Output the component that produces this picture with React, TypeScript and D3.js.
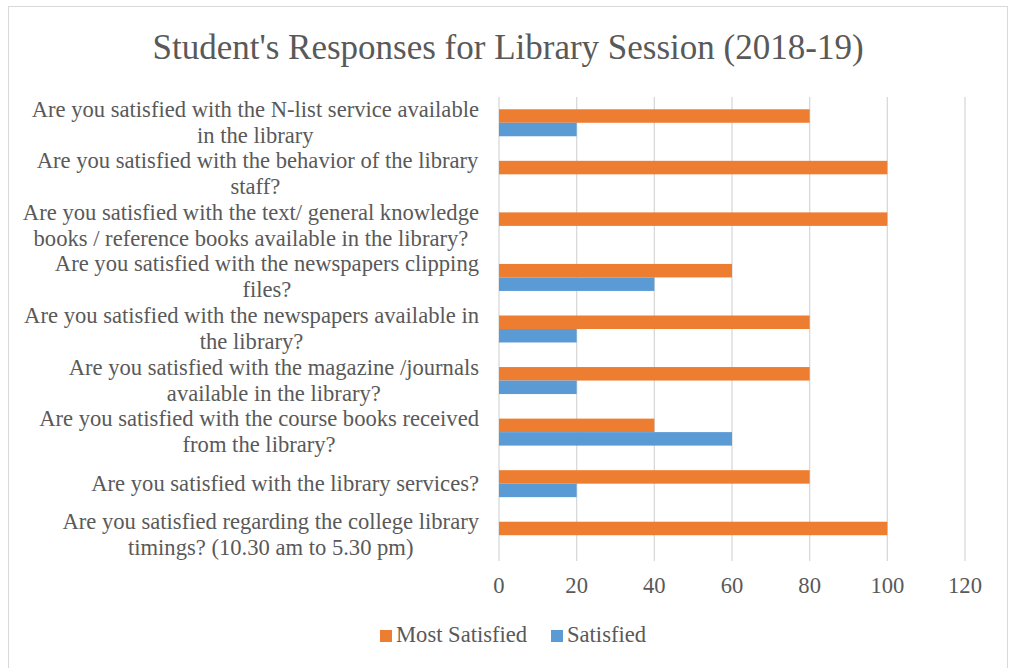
import * as d3 from 'd3';

const W = 1009;
const H = 668;

// one entry per category, top to bottom; each entry is the wrapped lines of the label
const categories: string[][] = [
  ['Are you satisfied with the N-list service available', 'in the library'],
  [' Are you satisfied with the behavior of the library', 'staff?'],
  ['Are you satisfied with the text/ general knowledge', 'books / reference books available in the library?'],
  ['Are you satisfied with the newspapers clipping', 'files?'],
  ['Are you satisfied with the newspapers available in', 'the library?'],
  ['Are you satisfied with the magazine /journals', 'available in the library?'],
  ['Are you satisfied with the course books received', 'from the library?'],
  ['Are you satisfied with the library services?'],
  ['Are you satisfied regarding the college library', 'timings? (10.30 am to 5.30 pm)'],
];
const mostSatisfied = [80, 100, 100, 60, 80, 80, 40, 80, 100];
const satisfied = [20, 0, 0, 40, 20, 20, 60, 20, 0];
const seriesNames = ['Most Satisfied', 'Satisfied'];
const xTicks = [0, 20, 40, 60, 80, 100, 120];

const ORANGE = '#ED7D31';
const BLUE = '#5B9BD5';
const TEXT = '#595959';
const GRID = '#D9D9D9';
const FONT = 'Liberation Serif';
const FS = 22.6;

// text width via canvas, so labels can be centred inside a right-aligned block
const ctx = document.createElement('canvas').getContext('2d')!;
ctx.font = `${FS}px "${FONT}"`;
const measure = (s: string) => ctx.measureText(s).width;

export default function App() {
  const plot = { left: 499, right: 965, top: 97, bottom: 561 };

  const x = d3.scaleLinear().domain([0, 120]).range([plot.left, plot.right]);
  const y = d3.scaleBand<number>()
    .domain(d3.range(categories.length))
    .range([plot.top, plot.bottom]);
  const inner = d3.scaleBand<number>()
    .domain([0, 1])
    .range([0, y.bandwidth()])
    .paddingOuter(0.91);

  const series = [mostSatisfied, satisfied];
  const colors = [ORANGE, BLUE];
  const labelRight = 479;
  const lineH = 26;

  const legendItems = [
    { name: seriesNames[0], color: ORANGE, x: 380 },
    { name: seriesNames[1], color: BLUE, x: 551 },
  ];

  const textStyle = { fontFamily: FONT, fontSize: FS, whiteSpace: 'pre' as const };

  return (
    <svg
      width={W}
      height={H}
      style={{ position: 'absolute', left: 0, top: 0, background: '#fff' }}
    >
      <rect x={8.5} y={6.5} width={999} height={670} fill="#fff" stroke={GRID} />

      <text x={508} y={59} textAnchor="middle" fill={TEXT} style={{ fontFamily: FONT, fontSize: 35 }}>
        Student's Responses for Library Session (2018-19)
      </text>

      {/* Gridlines */}
      <g>
        {xTicks.map((t) => (
          <line key={t} x1={x(t)} x2={x(t)} y1={plot.top} y2={plot.bottom} stroke={GRID} strokeWidth={1.3} />
        ))}
      </g>

      {/* Tick labels */}
      <g>
        {xTicks.map((t) => (
          <text key={t} x={x(t)} y={593} textAnchor="middle" fill={TEXT} style={textStyle}>
            {t}
          </text>
        ))}
      </g>

      {/* Bars */}
      {series.map((vals, si) => (
        <g key={si}>
          {vals.map((v, i) => (
            <rect
              key={i}
              x={x(0)}
              y={y(i)! + inner(si)!}
              width={x(v) - x(0)}
              height={inner.bandwidth()}
              fill={colors[si]}
            />
          ))}
        </g>
      ))}

      {/* Category labels */}
      {categories.map((lines, i) => {
        const cy = y(i)! + y.bandwidth() / 2;
        const blockW = Math.max(...lines.map(measure));
        const cx = labelRight - blockW / 2;
        return (
          <g key={i}>
            {lines.map((line, j) => (
              <text
                key={j}
                x={cx}
                y={cy + (j - (lines.length - 1) / 2) * lineH + 7}
                textAnchor="middle"
                fill={TEXT}
                style={textStyle}
              >
                {line}
              </text>
            ))}
          </g>
        );
      })}

      {/* Legend */}
      <g>
        {legendItems.map((item) => (
          <g key={item.name}>
            <rect x={item.x} y={630} width={12} height={12} fill={item.color} />
            <text x={item.x + 16} y={642} fill={TEXT} style={textStyle}>
              {item.name}
            </text>
          </g>
        ))}
      </g>
    </svg>
  );
}
